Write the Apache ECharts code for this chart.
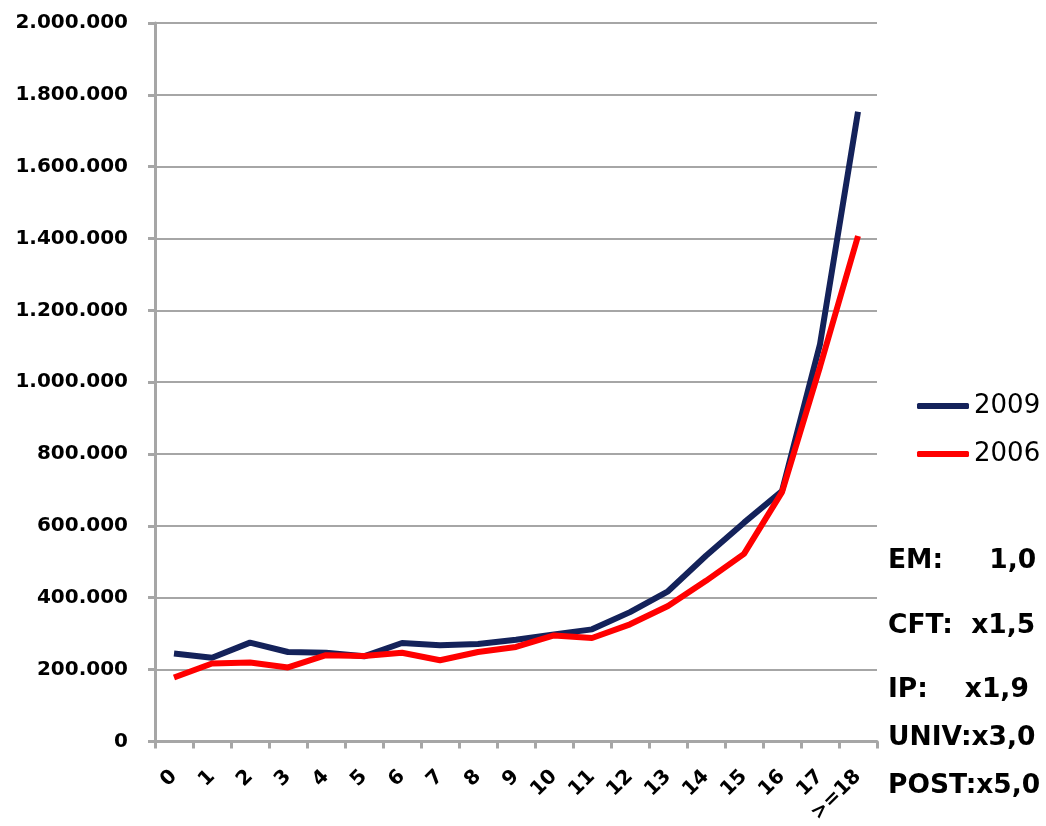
<!DOCTYPE html>
<html>
<head>
<meta charset="utf-8">
<script src="https://cdn.jsdelivr.net/npm/echarts@6/dist/echarts.min.js"></script>
<style>
  html, body { margin: 0; padding: 0; background: #fff; }
  #chart { width: 1046px; height: 826px; }
</style>
</head>
<body>
<div id="chart"></div>
<script>
const categories = ['0', '1', '2', '3', '4', '5', '6', '7', '8', '9', '10', '11', '12', '13', '14', '15', '16', '17', '>=18']
const values2009 = [245000, 233000, 275000, 249000, 247000, 237000, 274000, 268000, 271000, 283000, 298000, 312000, 360000, 418000, 517000, 609000, 697000, 1106000, 1753000]
const values2006 = [178000, 217000, 220000, 206000, 240000, 238000, 247000, 226000, 249000, 263000, 295000, 288000, 326000, 377000, 447000, 522000, 694000, 1043000, 1407000]
const yTicks = [0, 2000000, 200000] // min, max, step
const notes = ['EM:     1,0', 'CFT:  x1,5', 'IP:    x1,9', 'UNIV:x3,0', 'POST:x5,0']
const noteY = [563, 628, 692, 740, 788]

const font = 'DejaVu Sans, Verdana, sans-serif'
const grey = '#A6A6A6'
const fmt = v => String(v).replace(/\B(?=(\d{3})+(?!\d))/g, '.')

const chart = echarts.init(document.getElementById('chart'))
chart.setOption({
  animation: false,
  textStyle: { fontFamily: font },
  grid: { left: 155, right: 169, top: 23, bottom: 83, containLabel: false },
  legend: {
    orient: 'vertical', left: 912, top: 388, itemWidth: 52, itemHeight: 6, itemGap: 22,
    icon: 'roundRect',
    textStyle: { fontSize: 26, color: '#000', fontFamily: font },
    data: ['2009', '2006']
  },
  xAxis: {
    type: 'category', data: categories, boundaryGap: true,
    axisLine: { lineStyle: { color: grey, width: 3 } },
    axisTick: { show: true, length: 7, lineStyle: { color: grey, width: 3 } },
    axisLabel: { rotate: 45, margin: 32, fontSize: 20, fontWeight: 'bold', color: '#000', interval: 0, fontFamily: font }
  },
  yAxis: {
    type: 'value', min: yTicks[0], max: yTicks[1], interval: yTicks[2],
    axisLine: { show: true, lineStyle: { color: grey, width: 3 } },
    axisTick: { show: true, length: 7, lineStyle: { color: grey, width: 3 } },
    splitLine: { lineStyle: { color: grey, width: 2 } },
    axisLabel: { fontSize: 20, fontWeight: 'bold', color: '#000', margin: 27, formatter: fmt, fontFamily: font }
  },
  series: [
    { name: '2009', type: 'line', data: values2009, symbol: 'none', z: 2,
      lineStyle: { color: '#14225A', width: 6 }, itemStyle: { color: '#14225A' } },
    { name: '2006', type: 'line', data: values2006, symbol: 'none', z: 3,
      lineStyle: { color: '#FF0000', width: 6 }, itemStyle: { color: '#FF0000' } }
  ],
  graphic: notes.map((t, i) => ({
    type: 'text', left: 888, top: noteY[i] - 15,
    style: { text: t, fontSize: 26.5, fontWeight: 'bold', fill: '#000', fontFamily: font }
  }))
})
</script>
</body>
</html>
